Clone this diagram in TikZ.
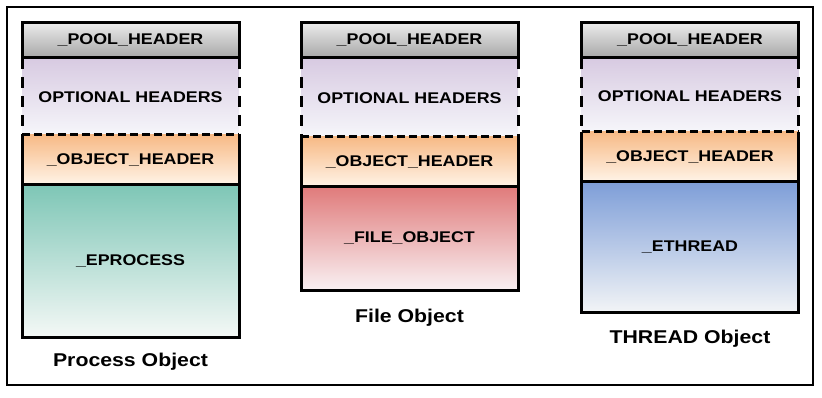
\documentclass[tikz,border=0pt]{standalone}
\usepackage{fontspec}
\setmainfont{Liberation Sans}[FakeStretch=1.15]
\usetikzlibrary{positioning}
\definecolor{poolTop}{HTML}{EBEBEB}
\definecolor{poolBot}{HTML}{A6A6A6}
\definecolor{optTop}{HTML}{D8CBE2}
\definecolor{optBot}{HTML}{F6F6FA}
\definecolor{objTop}{HTML}{F7BA86}
\definecolor{objBot}{HTML}{FFF4E8}
\definecolor{tealTop}{HTML}{7EC6B6}
\definecolor{tealBot}{HTML}{F4F8F6}
\definecolor{salmonTop}{HTML}{E07B7B}
\definecolor{salmonBot}{HTML}{F9F1F3}
\definecolor{steelTop}{HTML}{7E9ED8}
\definecolor{steelBot}{HTML}{F2F4F6}
\begin{document}
\begin{tikzpicture}[x=1pt,y=-1pt,
  part/.style={line width=3pt,outer sep=0pt,inner sep=0pt,minimum width=217pt,
    font=\fontsize{15.5}{18}\selectfont\bfseries},
  dashside/.style={line width=3pt,dash pattern=on 11pt off 8pt},
  dashfloor/.style={line width=3pt,dash pattern=on 8pt off 4pt},
  caption/.style={inner sep=0pt,font=\fontsize{18.5}{22}\selectfont\bfseries}]
  \useasboundingbox (0,0) rectangle (822,398);
  \draw[line width=2pt] (7,7) rectangle (813,385);
  % one column per object type
  \foreach \n/\x/\hopt/\hbody/\gap/\tint/\txt/\lab in {
      p/130.5/77/152/16/teal/EPROCESS/Process Object,
      f/409.5/79/103/19/salmon/FILE\_OBJECT/File Object,
      t/690/74/130/18/steel/ETHREAD/THREAD Object}{
    \node[part,draw,top color=poolTop,bottom color=poolBot,minimum height=35pt,anchor=north]
      (pool\n) at (\x,23) {\_POOL\_HEADER};
    \node[part,top color=optTop,bottom color=optBot,minimum height=\hopt pt-1.5pt,
      below=1.5pt of pool\n] (opt\n) {OPTIONAL HEADERS};
    \node[part,top color=objTop,bottom color=objBot,minimum height=50pt,
      below=0pt of opt\n] (obj\n) {\_OBJECT\_HEADER};
    \node[part,draw,top color=\tint Top,bottom color=\tint Bot,minimum height=\hbody pt,
      below=0pt of obj\n] (body\n) {\_\txt};
    \node[caption,below=\gap pt of body\n] (cap\n) {\lab};
    \draw[line width=3pt] (obj\n.north west) -- (obj\n.south west)
      (obj\n.north east) -- (obj\n.south east);
    \draw[dashside] (pool\n.south west) -- (obj\n.north west);
    \draw[dashside] (pool\n.south east) -- (obj\n.north east);
    \draw[dashfloor] (obj\n.north west) -- (obj\n.north east);
  }
\end{tikzpicture}
\end{document}
